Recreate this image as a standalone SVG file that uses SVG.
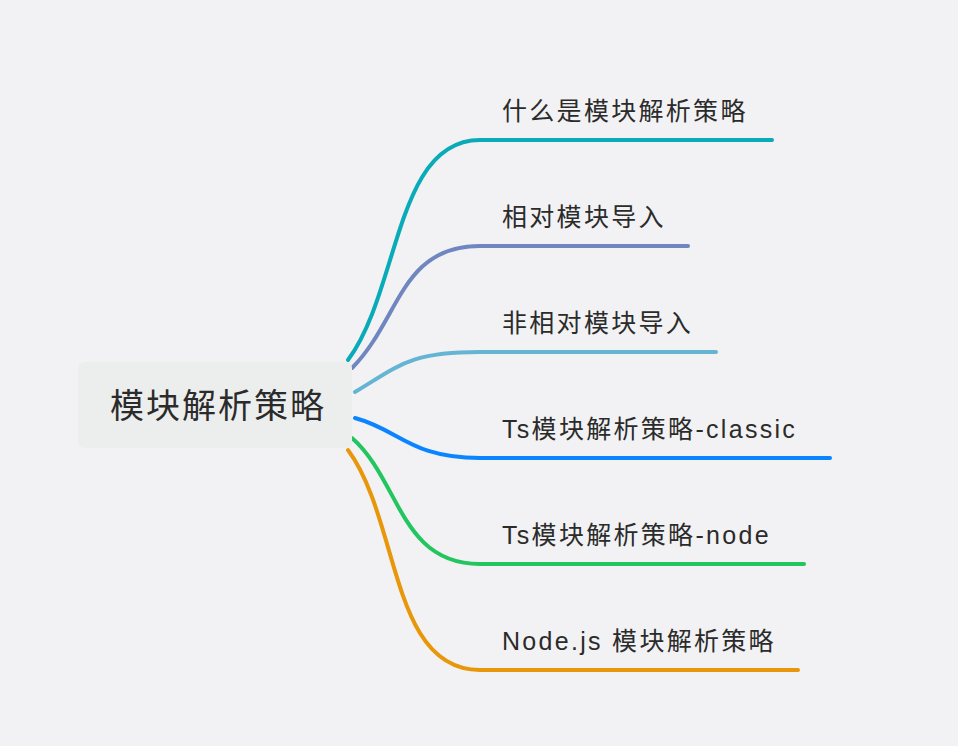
<svg xmlns="http://www.w3.org/2000/svg" width="958" height="746" viewBox="0 0 958 746">
<style>
.c{fill:none;stroke-width:4;stroke-linecap:round}
.t{font-family:"Liberation Sans","Noto Sans CJK SC",sans-serif;font-size:25px;letter-spacing:2.3px;fill:#2b2b2b}
</style>
<rect width="958" height="746" fill="#f2f2f4"/>
<g id="connectors">
<path class="c" stroke="#0aabb8" d="M348 360 C400 290,395 140,480 140 L772 140"/>
<path class="c" stroke="#6f86c0" d="M352 368 C400 320,400 246,480 246 L688 246"/>
<path class="c" stroke="#64b5d3" d="M355 392 C400 365,410 352,480 352 L716 352"/>
<path class="c" stroke="#0a84ff" d="M355 418 C400 430,410 458,480 458 L830 458"/>
<path class="c" stroke="#22c55e" d="M352 438 C400 480,400 564,480 564 L804 564"/>
<path class="c" stroke="#e8960a" d="M348 450 C400 520,390 670,480 670 L798 670"/>
</g>
<g id="root"><rect x="78" y="362" width="274" height="86" rx="6" fill="#eceeed"/>
<text x="110" y="418" font-family="Liberation Sans,'Noto Sans CJK SC',sans-serif" font-size="34" letter-spacing="2" fill="#2b2b2b">模块解析策略</text></g>
<g id="n1"><text class="t" x="502" y="120">什么是模块解析策略</text></g>
<g id="n2"><text class="t" x="502" y="226">相对模块导入</text></g>
<g id="n3"><text class="t" x="502" y="332">非相对模块导入</text></g>
<g id="n4"><text class="t" x="502" y="438">Ts模块解析策略-classic</text></g>
<g id="n5"><text class="t" x="502" y="544">Ts模块解析策略-node</text></g>
<g id="n6"><text class="t" x="502" y="650">Node.js 模块解析策略</text></g>
</svg>
